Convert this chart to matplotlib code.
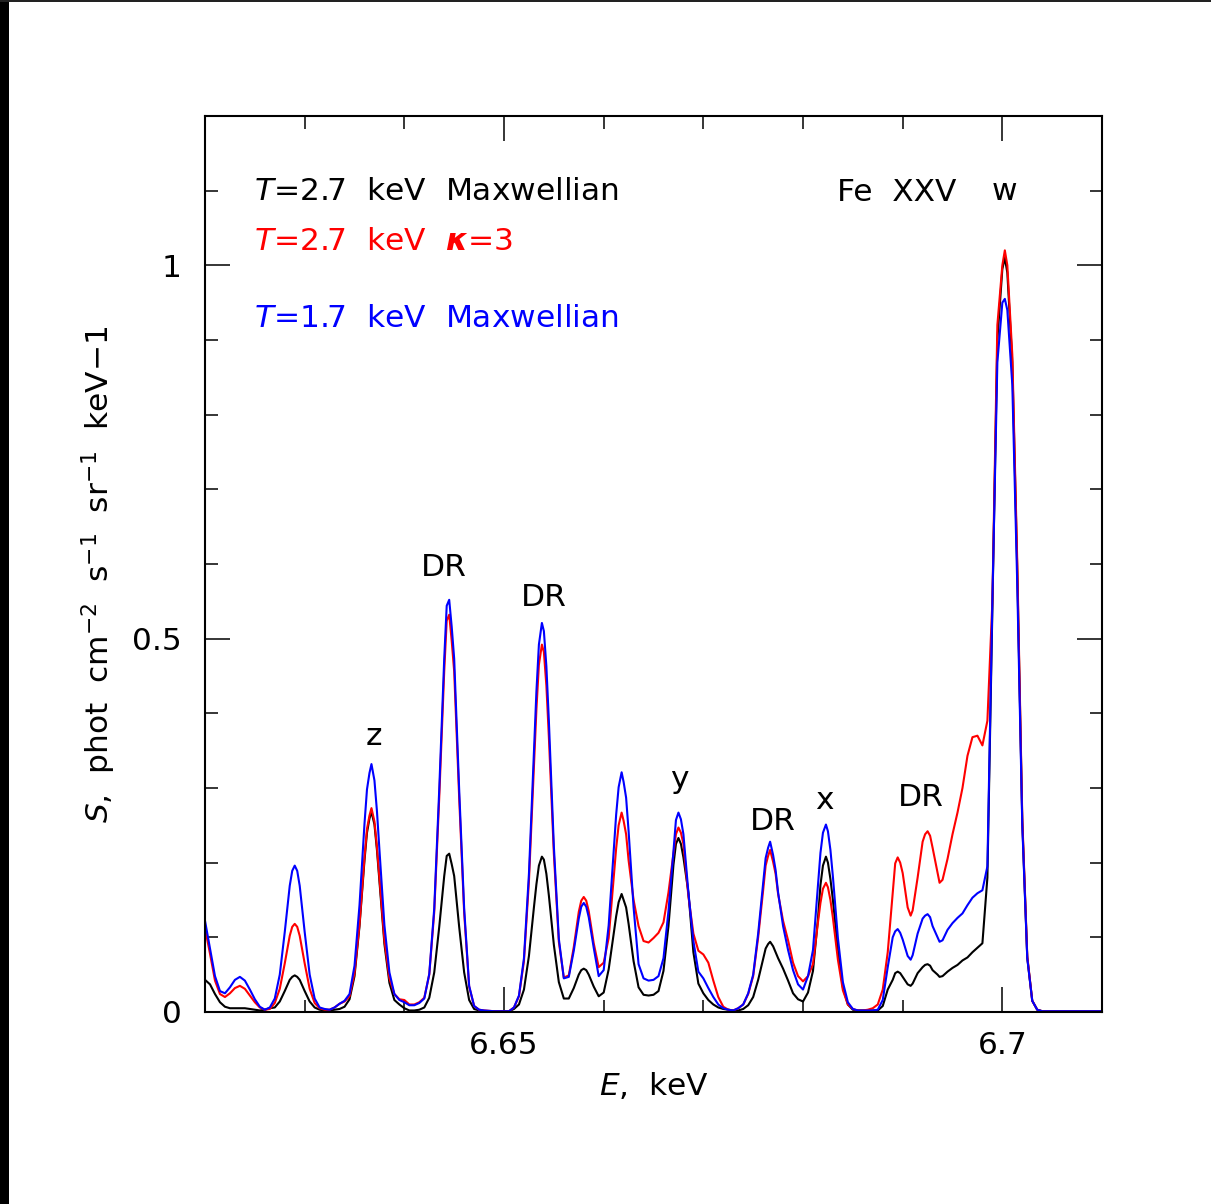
import numpy as np
import matplotlib
matplotlib.use('Agg')
import matplotlib.pyplot as plt
from matplotlib.patches import Rectangle
from matplotlib.ticker import FixedLocator, FixedFormatter, MultipleLocator

# energy grid (keV)
energy = [
    6.6200, 6.6205, 6.6210, 6.6215, 6.6220, 6.6225, 6.6230, 6.6235, 6.6240, 6.6245,
    6.6250, 6.6255, 6.6260, 6.6265, 6.6270, 6.6275, 6.6280, 6.6285, 6.62875, 6.6290, 6.62925, 6.6295,
    6.6300, 6.6305, 6.6310, 6.6315, 6.6320, 6.6325, 6.6330, 6.6335, 6.6340, 6.6345,
    6.6350, 6.6355, 6.6360, 6.63625, 6.6365, 6.6367, 6.6370, 6.63725, 6.6375, 6.6380, 6.6385, 6.6390,
    6.6395, 6.6400, 6.6405, 6.6410, 6.6415, 6.6420, 6.6425, 6.6430, 6.6435, 6.6440,
    6.64425, 6.6445, 6.64475, 6.6450, 6.6455, 6.6460, 6.6465, 6.6470, 6.6475, 6.6480, 6.6490, 6.6500,
    6.6505, 6.6510, 6.6515, 6.6520, 6.6525, 6.6530, 6.65325, 6.6535, 6.6538, 6.6540, 6.65425, 6.6545,
    6.6550, 6.6555, 6.6560, 6.6565, 6.6570, 6.6575, 6.65775, 6.6580, 6.65825, 6.6585, 6.6590, 6.6595,
    6.6600, 6.6605, 6.6610, 6.66125, 6.6615, 6.6618, 6.6620, 6.66225, 6.6625, 6.6630, 6.6635, 6.6640,
    6.6645, 6.6650, 6.6655, 6.6660, 6.6665, 6.6670, 6.66725, 6.6675, 6.66775, 6.6680, 6.6685, 6.6690,
    6.6695, 6.6700, 6.6705, 6.6710, 6.6715, 6.6720, 6.6725, 6.6730, 6.6735, 6.6740,
    6.6745, 6.6750, 6.6755, 6.6760, 6.67625, 6.6765, 6.6767, 6.6770, 6.67725, 6.6775, 6.6780, 6.6785,
    6.6790, 6.6795, 6.6800, 6.6805, 6.6810, 6.6815, 6.68175, 6.6820, 6.6823, 6.6825, 6.68275, 6.6830,
    6.6835, 6.6840, 6.6845, 6.6850, 6.6855, 6.6860, 6.6865, 6.6870, 6.6875, 6.6880,
    6.6885, 6.6890, 6.68925, 6.6895, 6.68975, 6.6900, 6.6905, 6.6908, 6.6910, 6.6915, 6.6920, 6.69225, 6.6925, 6.69275,
    6.6930, 6.6935, 6.6937, 6.6940, 6.6945, 6.6950, 6.6955, 6.6960, 6.6965, 6.6970,
    6.6975, 6.6980, 6.6985, 6.6990, 6.6995, 6.7000, 6.70025, 6.7005, 6.7010, 6.7015,
    6.7020, 6.7025, 6.7030, 6.7035, 6.7040, 6.7060, 6.7080, 6.7100,
]

# T = 2.7 keV Maxwellian
s_max_27 = [
    0.043, 0.037, 0.024, 0.013, 0.007, 0.005, 0.005, 0.005, 0.005, 0.004,
    0.003, 0.002, 0.003, 0.005, 0.006, 0.014, 0.028, 0.043, 0.047, 0.049, 0.047, 0.043,
    0.028, 0.014, 0.006, 0.003, 0.002, 0.002, 0.003, 0.004, 0.007, 0.017,
    0.048, 0.115, 0.203, 0.240, 0.259, 0.268, 0.251, 0.217, 0.175, 0.091, 0.039, 0.016,
    0.010, 0.005, 0.002, 0.002, 0.003, 0.006, 0.019, 0.053, 0.114, 0.182,
    0.209, 0.212, 0.198, 0.182, 0.114, 0.053, 0.016, 0.004, 0.002, 0.001, 0.001, 0.001,
    0.001, 0.004, 0.010, 0.030, 0.075, 0.140, 0.171, 0.196, 0.208, 0.204, 0.185, 0.156,
    0.090, 0.040, 0.018, 0.018, 0.032, 0.050, 0.056, 0.058, 0.056, 0.050, 0.034, 0.021,
    0.026, 0.057, 0.104, 0.128, 0.147, 0.158, 0.150, 0.140, 0.118, 0.068, 0.033, 0.023,
    0.022, 0.023, 0.028, 0.055, 0.115, 0.197, 0.225, 0.233, 0.225, 0.207, 0.160, 0.080,
    0.038, 0.025, 0.016, 0.010, 0.006, 0.004, 0.003, 0.002, 0.002, 0.004,
    0.009, 0.020, 0.043, 0.071, 0.085, 0.091, 0.094, 0.088, 0.080, 0.072, 0.058, 0.042,
    0.025, 0.017, 0.014, 0.026, 0.055, 0.125, 0.170, 0.196, 0.208, 0.200, 0.178, 0.150,
    0.082, 0.033, 0.010, 0.003, 0.002, 0.002, 0.002, 0.002, 0.002, 0.008,
    0.030, 0.043, 0.052, 0.054, 0.052, 0.047, 0.037, 0.035, 0.038, 0.052, 0.060, 0.063, 0.064, 0.062,
    0.056, 0.050, 0.047, 0.048, 0.054, 0.059, 0.063, 0.069, 0.073, 0.080,
    0.086, 0.092, 0.180, 0.540, 0.900, 0.995, 1.010, 0.990, 0.870, 0.590,
    0.255, 0.073, 0.015, 0.003, 0.001, 0.001, 0.001, 0.001,
]

# T = 2.7 keV kappa = 3
s_kappa_27 = [
    0.112, 0.078, 0.042, 0.024, 0.020, 0.025, 0.032, 0.035, 0.031, 0.022,
    0.013, 0.006, 0.003, 0.004, 0.012, 0.031, 0.065, 0.102, 0.114, 0.118, 0.114, 0.102,
    0.065, 0.031, 0.012, 0.005, 0.003, 0.003, 0.006, 0.011, 0.014, 0.021,
    0.052, 0.117, 0.207, 0.245, 0.263, 0.273, 0.255, 0.221, 0.179, 0.096, 0.045, 0.024,
    0.017, 0.016, 0.010, 0.010, 0.013, 0.019, 0.050, 0.134, 0.287, 0.456,
    0.524, 0.532, 0.497, 0.456, 0.287, 0.133, 0.034, 0.008, 0.003, 0.002, 0.001, 0.001,
    0.001, 0.006, 0.021, 0.068, 0.175, 0.330, 0.405, 0.465, 0.492, 0.482, 0.437, 0.368,
    0.212, 0.094, 0.046, 0.049, 0.087, 0.134, 0.149, 0.154, 0.149, 0.135, 0.092, 0.060,
    0.066, 0.099, 0.178, 0.219, 0.250, 0.267, 0.256, 0.238, 0.203, 0.150, 0.115, 0.095,
    0.093, 0.099, 0.106, 0.120, 0.160, 0.212, 0.238, 0.247, 0.240, 0.225, 0.155, 0.105,
    0.082, 0.077, 0.066, 0.042, 0.020, 0.007, 0.003, 0.002, 0.005, 0.010,
    0.024, 0.048, 0.100, 0.163, 0.196, 0.209, 0.217, 0.201, 0.185, 0.158, 0.122, 0.096,
    0.066, 0.048, 0.041, 0.048, 0.064, 0.120, 0.146, 0.165, 0.173, 0.167, 0.150, 0.126,
    0.070, 0.029, 0.010, 0.004, 0.002, 0.002, 0.003, 0.005, 0.010, 0.030,
    0.080, 0.160, 0.199, 0.207, 0.200, 0.186, 0.140, 0.129, 0.136, 0.180, 0.228, 0.238, 0.242, 0.236,
    0.220, 0.186, 0.173, 0.177, 0.205, 0.238, 0.267, 0.300, 0.343, 0.368,
    0.370, 0.357, 0.390, 0.550, 0.920, 1.000, 1.020, 1.000, 0.880, 0.600,
    0.260, 0.075, 0.015, 0.003, 0.001, 0.001, 0.001, 0.001,
]

# T = 1.7 keV Maxwellian
s_max_17 = [
    0.122, 0.085, 0.048, 0.028, 0.025, 0.033, 0.043, 0.047, 0.042, 0.030,
    0.017, 0.007, 0.003, 0.006, 0.018, 0.050, 0.107, 0.169, 0.189, 0.196, 0.189, 0.169,
    0.107, 0.050, 0.018, 0.006, 0.004, 0.003, 0.006, 0.011, 0.015, 0.024,
    0.062, 0.143, 0.252, 0.298, 0.320, 0.332, 0.310, 0.269, 0.217, 0.116, 0.053, 0.024,
    0.016, 0.013, 0.009, 0.009, 0.012, 0.018, 0.051, 0.139, 0.298, 0.473,
    0.544, 0.552, 0.516, 0.473, 0.298, 0.139, 0.035, 0.008, 0.003, 0.002, 0.001, 0.001,
    0.001, 0.006, 0.022, 0.072, 0.185, 0.350, 0.429, 0.492, 0.521, 0.510, 0.463, 0.390,
    0.222, 0.098, 0.045, 0.047, 0.082, 0.125, 0.141, 0.146, 0.141, 0.127, 0.086, 0.048,
    0.056, 0.116, 0.214, 0.264, 0.301, 0.321, 0.308, 0.287, 0.242, 0.140, 0.064, 0.045,
    0.042, 0.043, 0.048, 0.072, 0.135, 0.215, 0.257, 0.267, 0.258, 0.238, 0.160, 0.095,
    0.054, 0.045, 0.032, 0.020, 0.010, 0.005, 0.003, 0.002, 0.005, 0.010,
    0.025, 0.050, 0.105, 0.172, 0.206, 0.220, 0.228, 0.210, 0.190, 0.160, 0.115, 0.083,
    0.056, 0.037, 0.030, 0.048, 0.083, 0.170, 0.213, 0.240, 0.251, 0.242, 0.217, 0.181,
    0.099, 0.040, 0.013, 0.004, 0.002, 0.002, 0.002, 0.002, 0.003, 0.016,
    0.060, 0.100, 0.108, 0.111, 0.106, 0.097, 0.075, 0.070, 0.076, 0.105, 0.125, 0.129, 0.131, 0.127,
    0.115, 0.100, 0.094, 0.096, 0.110, 0.119, 0.126, 0.132, 0.143, 0.153,
    0.159, 0.163, 0.195, 0.550, 0.870, 0.950, 0.955, 0.940, 0.840, 0.570,
    0.250, 0.072, 0.015, 0.003, 0.001, 0.001, 0.001, 0.001,
]

x_ticks = [6.65, 6.70]
x_tick_labels = ['6.65', '6.7']
y_ticks = [0.0, 0.5, 1.0]
y_tick_labels = ['0', '0.5', '1']

# line labels: text, energy, level
line_labels = [
    ('z', 6.6369, 0.357),
    ('DR', 6.6440, 0.584),
    ('DR', 6.6540, 0.544),
    ('y', 6.6676, 0.300),
    ('DR', 6.6770, 0.244),
    ('x', 6.6821, 0.272),
    ('DR', 6.6918, 0.276),
    ('w', 6.7002, 1.087),
]

FS = 22.5

plt.rcParams['font.family'] = ['DejaVu Sans']
plt.rcParams['mathtext.fontset'] = 'dejavusans'


def make_plot(path='out.png'):
    fig = plt.figure(figsize=(12.11, 12.04), dpi=100)
    ax = fig.add_axes([0.1693, 0.1595, 0.7407, 0.7442])

    # scan edges of the original page
    fig.add_artist(Rectangle((0, 0), 0.0074, 1, transform=fig.transFigure,
                             facecolor='black', edgecolor='none'))
    fig.add_artist(Rectangle((0, 0.9983), 1, 0.0017, transform=fig.transFigure,
                             facecolor='#222222', edgecolor='none'))

    kw = dict(lw=1.5, solid_joinstyle='round')
    ax.plot(energy, s_max_27, color='black', **kw)
    ax.plot(energy, s_kappa_27, color='red', **kw)
    ax.plot(energy, s_max_17, color='blue', **kw)

    ax.set_xlim(6.62, 6.71)
    ax.set_ylim(0, 1.2)

    ax.xaxis.set_major_locator(FixedLocator(x_ticks))
    ax.xaxis.set_major_formatter(FixedFormatter(x_tick_labels))
    ax.xaxis.set_minor_locator(MultipleLocator(0.01))
    ax.yaxis.set_major_locator(FixedLocator(y_ticks))
    ax.yaxis.set_major_formatter(FixedFormatter(y_tick_labels))
    ax.yaxis.set_minor_locator(MultipleLocator(0.1))

    ax.tick_params(which='both', direction='in', top=True, right=True,
                   width=1.1, labelsize=FS)
    ax.tick_params(which='major', length=18)
    ax.tick_params(which='minor', length=9)
    ax.tick_params(axis='x', which='major', pad=13.5)
    ax.tick_params(axis='y', which='major', pad=17)
    for sp in ax.spines.values():
        sp.set_linewidth(1.5)

    ax.set_xlabel(r'$E$,  keV', fontsize=FS)
    ax.xaxis.set_label_coords(0.5, -0.065)
    ax.set_ylabel(r'$S$,  phot  cm$^{-2}$  s$^{-1}$  sr$^{-1}$  keV$-$1', fontsize=FS)
    ax.yaxis.set_label_coords(-0.097, 0.488)

    ax.text(6.6249, 1.088, r'$T$=2.7  keV  Maxwellian', color='black', fontsize=FS)
    ax.text(6.6249, 1.020, r'$T$=2.7  keV  $\mathbfit{\kappa}$=3', color='red', fontsize=FS)
    ax.text(6.6249, 0.918, r'$T$=1.7  keV  Maxwellian', color='blue', fontsize=FS)
    ax.text(6.6834, 1.086, 'Fe  XXV', color='black', fontsize=FS)

    for txt, e, s in line_labels:
        ax.text(e, s, txt, ha='center', va='baseline', fontsize=FS)

    fig.savefig(path, dpi=100)


if __name__ == '__main__':
    for arr in (s_max_27, s_kappa_27, s_max_17):
        assert len(arr) == len(energy)
    make_plot()
